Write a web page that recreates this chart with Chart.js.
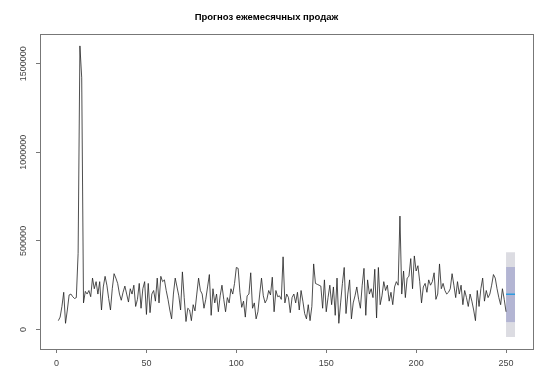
<!DOCTYPE html>
<html>
<head>
<meta charset="utf-8">
<script src="https://cdn.jsdelivr.net/npm/chart.js@4"></script>
<style>
  html, body { margin: 0; padding: 0; background: #fff; }
  #wrap { width: 550px; height: 384px; }
</style>
</head>
<body>
<div id="wrap"><canvas id="chart" width="550" height="384"></canvas></div>
<script>
// monthly sales, in units (series starts at t = 1)
const salesValues = [
  50000, 70000, 130000, 210000, 35000, 110000, 195000, 200000, 185000, 175000,
  180000, 430000, 1600000, 1420000, 150000, 215000, 200000, 220000, 185000, 290000,
  230000, 270000, 200000, 270000, 110000, 240000, 300000, 250000, 175000, 110000,
  230000, 315000, 290000, 260000, 200000, 165000, 210000, 245000, 200000, 155000,
  230000, 200000, 250000, 130000, 170000, 260000, 120000, 230000, 270000, 85000,
  260000, 95000, 200000, 220000, 160000, 290000, 150000, 300000, 270000, 280000,
  220000, 170000, 110000, 60000, 200000, 290000, 240000, 190000, 110000, 325000,
  180000, 45000, 120000, 110000, 50000, 140000, 105000, 200000, 290000, 220000,
  200000, 120000, 170000, 240000, 310000, 80000, 230000, 150000, 200000, 100000,
  190000, 250000, 170000, 100000, 180000, 150000, 230000, 200000, 260000, 350000,
  345000, 210000, 125000, 160000, 70000, 190000, 200000, 320000, 120000, 150000,
  60000, 100000, 200000, 290000, 190000, 150000, 170000, 220000, 195000, 295000,
  100000, 220000, 185000, 190000, 170000, 410000, 150000, 200000, 180000, 95000,
  180000, 200000, 150000, 210000, 110000, 220000, 160000, 90000, 60000, 140000,
  50000, 130000, 370000, 260000, 255000, 250000, 245000, 120000, 280000, 100000,
  180000, 250000, 140000, 240000, 80000, 290000, 35000, 150000, 260000, 350000,
  90000, 200000, 280000, 60000, 150000, 190000, 240000, 170000, 120000, 250000,
  345000, 80000, 280000, 200000, 230000, 180000, 340000, 65000, 350000, 140000,
  190000, 270000, 220000, 250000, 160000, 210000, 140000, 240000, 270000, 250000,
  640000, 200000, 330000, 180000, 290000, 300000, 400000, 230000, 415000, 330000,
  360000, 270000, 150000, 240000, 260000, 210000, 280000, 250000, 270000, 320000,
  170000, 200000, 370000, 230000, 260000, 220000, 200000, 210000, 230000, 315000,
  250000, 180000, 270000, 200000, 250000, 140000, 220000, 180000, 130000, 200000,
  160000, 110000, 50000, 220000, 130000, 230000, 290000, 160000, 220000, 180000,
  200000, 250000, 310000, 290000, 230000, 180000, 140000, 230000, 170000, 100000
];

// one-step forecast: time span of the drawn block, mean and intervals
const forecastSpan = [250, 255];
const forecastMean = 199000;
const lo80 = 41000, hi80 = 352000;
const lo95 = -43000, hi95 = 436000;

const xTicks = [0, 50, 100, 150, 200, 250];
const yTicks = [0, 500000, 1000000, 1500000];

const salesPoints = salesValues.map((v, i) => ({ x: i + 1, y: v }));
const flat = v => forecastSpan.map(t => ({ x: t, y: v }));

const FONT = '"Liberation Sans", Arial, sans-serif';

// R-style box around the plot and vertical y labels
const rFrame = {
  id: 'rFrame',
  afterDraw(chart) {
    const { ctx, chartArea: a, scales } = chart;
    ctx.save();
    ctx.strokeStyle = '#777';
    ctx.lineWidth = 1;
    ctx.strokeRect(Math.round(a.left) + 0.5, Math.round(a.top) + 0.5,
      Math.round(a.right - a.left), Math.round(a.bottom - a.top));
    ctx.fillStyle = '#444';
    ctx.font = '9px ' + FONT;
    ctx.textAlign = 'center';
    ctx.textBaseline = 'middle';
    yTicks.forEach(v => {
      const y = scales.y.getPixelForValue(v);
      ctx.save();
      ctx.translate(24, y);
      ctx.rotate(-Math.PI / 2);
      ctx.fillText(String(v), 0, 0);
      ctx.restore();
    });
    ctx.restore();
  }
};

new Chart(document.getElementById('chart').getContext('2d'), {
  type: 'line',
  data: {
    datasets: [
      { label: 'Продажи', data: salesPoints, borderColor: '#222', borderWidth: 0.8,
        pointRadius: 0, tension: 0, fill: false },
      { label: 'Прогноз', data: flat(forecastMean), borderColor: '#2d9be0', borderWidth: 1.5,
        pointRadius: 0, fill: false },
      { label: '80% hi', data: flat(hi80), borderWidth: 0, pointRadius: 0,
        backgroundColor: '#b3b5d3', fill: 3 },
      { label: '80% lo', data: flat(lo80), borderWidth: 0, pointRadius: 0, fill: false },
      { label: '95% hi', data: flat(hi95), borderWidth: 0, pointRadius: 0,
        backgroundColor: '#dcdce2', fill: 2 },
      { label: '95% lo', data: flat(lo95), borderWidth: 0, pointRadius: 0,
        backgroundColor: '#dcdce2', fill: 3 }
    ]
  },
  options: {
    responsive: false,
    animation: false,
    layout: { padding: { left: 0, right: 17, top: 0, bottom: 0 } },
    plugins: {
      legend: { display: false },
      tooltip: { enabled: false },
      title: {
        display: true,
        text: 'Прогноз ежемесячных продаж',
        color: '#000',
        font: { family: FONT, size: 9.5, weight: 'bold', lineHeight: 1.2 },
        padding: { top: 12, bottom: 11 }
      }
    },
    scales: {
      x: {
        type: 'linear',
        min: -9.2,
        max: 265,
        afterBuildTicks: s => { s.ticks = xTicks.map(v => ({ value: v })); },
        afterFit: s => { s.height = 35; },
        grid: { drawOnChartArea: false, drawTicks: true, tickLength: 4, color: '#777' },
        border: { display: false },
        ticks: { color: '#444', font: { family: FONT, size: 9 }, padding: 5,
          maxRotation: 0, autoSkip: false }
      },
      y: {
        type: 'linear',
        min: -110000,
        max: 1665000,
        afterBuildTicks: s => { s.ticks = yTicks.map(v => ({ value: v })); },
        afterFit: s => { s.width = 40; },
        grid: { drawOnChartArea: false, drawTicks: true, tickLength: 4, color: '#777' },
        border: { display: false },
        ticks: { display: false }
      }
    }
  },
  plugins: [rFrame]
});
</script>
</body>
</html>
